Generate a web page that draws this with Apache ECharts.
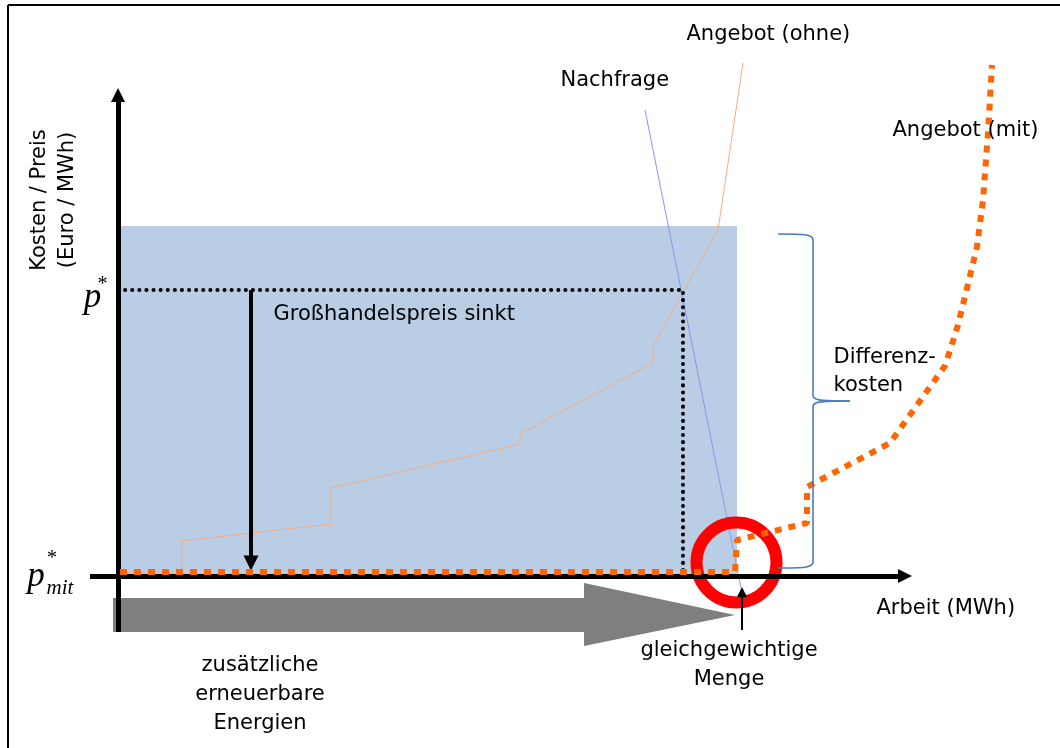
<!DOCTYPE html>
<html><head><meta charset="utf-8">
<script src="https://cdn.jsdelivr.net/npm/echarts@6/dist/echarts.min.js"></script>
<style>html,body{margin:0;padding:0;background:#fff}#c{width:1060px;height:748px}</style>
</head><body><div id="c"></div>
<script>
// Schematic values: x = Arbeit (MWh), y = Kosten / Preis (arbitrary units, origin at the axis crossing)
const supplyOhne = [[2,4],[64,4],[64,35],[213,52],[213,88],[402,132],[402,142],[535,213],[535,230],[600,346],[625,513]];
const supplyMit  = [[2,4],[617,4],[619,36],[689,53],[689,89],[772,133],[819,199],[827,210],[840,251],[859,329],[865,376],[870,443],[874,511]];
const nachfrage  = [[527,466],[623,-12]];
const pStarLine  = [[0,286],[565,286],[565,0]];          // p* and old equilibrium quantity
const costArea   = [[0,0],[619,350]];                     // shaded rectangle
const priceDrop  = [[133,286],[133,13]];                  // Großhandelspreis sinkt
const yAxisLine  = [[0,-56],[0,481]];
const xAxisLine  = [[-28,0],[787,0]];
const mengeArrow = [[624,-54],[624,-16]];
const equilibrium = [618.5,13.5];
const addedRE    = [[-5,-22],[466,-22],[466,-7],[617,-39],[466,-70],[466,-56],[-5,-56]];
const brace      = {top:342, bottom:8, mid:175, left:660, spine:695, tip:732};

const textLabels  = ['Angebot (ohne)','Nachfrage','Angebot (mit)','Großhandelspreis sinkt','Differenz-\nkosten','Arbeit (MWh)','zusätzliche\nerneuerbare\nEnergien','gleichgewichtige\nMenge','Kosten / Preis\n(Euro / MWh)'];
const textAnchors = [[568,541],[442,495],[774,445],[155,261],[715,204],[758,-33],[142,-118.5],[611,-89.5],[-64,376]];
const textModes   = ['left','left','left','left','left','left','center','center','rot'];
const symLabels   = ['p','*','p','mit','*'];
const symAnchors  = [[-25.5,278],[-15.5,291],[-82,-1],[-58,-12],[-66,17]];
const symSizes    = [35,20,35,21,20];

const FONT = 'DejaVu Sans';
const chart = echarts.init(document.getElementById('c'), null, {renderer:'canvas'});

const textData = textLabels.map((t,i)=>{
  const m = textModes[i];
  const lab = {show:true, formatter:t, fontFamily:FONT, fontSize:21, color:'#000', lineHeight:28, opacity:1};
  if (m==='left'){ lab.position='right'; lab.distance=0; lab.align='left'; }
  else if (m==='center'){ lab.position='inside'; lab.align='center'; lab.lineHeight=29; }
  else { lab.position='inside'; lab.rotate=90; lab.align='center'; }
  return {value:textAnchors[i], label:lab};
});
const symData = symLabels.map((t,i)=>({value:symAnchors[i], label:{show:true, position:'inside', formatter:t, opacity:1,
  fontFamily:'Liberation Serif', fontStyle: t==='*'?'normal':'italic', fontSize:symSizes[i], color:'#000'}}));

function polyItem(pts, style){
  return function(params, api){
    return {type:'polygon', shape:{points:pts.map(p=>api.coord(p))}, style:style};
  };
}

const option = {
  animation:false,
  grid:{left:0,right:0,top:0,bottom:0},
  xAxis:{type:'value', min:-118, max:942, show:false},
  yAxis:{type:'value', min:-172, max:576, show:false},
  graphic:[
    {type:'line', shape:{x1:8,y1:5,x2:8,y2:748}, style:{stroke:'#000',lineWidth:2}, z:100},
    {type:'line', shape:{x1:8,y1:5,x2:1060,y2:5}, style:{stroke:'#000',lineWidth:2}, z:100}
  ],
  series:[
    {type:'custom', coordinateSystem:'cartesian2d', data:[[0,0]], z:1, silent:true,
      renderItem:function(params, api){
        const a = api.coord(costArea[0]), b = api.coord(costArea[1]);
        return {type:'rect', shape:{x:a[0], y:b[1], width:b[0]-a[0], height:a[1]-b[1]}, style:{fill:'#b9cde5'}};
      }},
    {type:'line', data:supplyOhne, showSymbol:false, symbol:'none', clip:false, z:2, silent:true,
      lineStyle:{color:'#f2ad82', width:1}},
    {type:'line', data:nachfrage, showSymbol:false, symbol:'none', clip:false, z:2, silent:true,
      lineStyle:{color:'#8797f2', width:1}},
    {type:'line', data:pStarLine, showSymbol:false, symbol:'none', clip:false, z:3, silent:true,
      lineStyle:{color:'#000', width:4, type:[0.1,7], cap:'round'}},
    {type:'lines', coordinateSystem:'cartesian2d', z:4, silent:true,
      symbol:['none','triangle'], symbolSize:15,
      lineStyle:{color:'#000', width:4, opacity:1},
      data:[{coords:priceDrop}]},
    {type:'custom', coordinateSystem:'cartesian2d', data:[[0,0]], z:4, silent:true,
      renderItem:polyItem(addedRE, {fill:'#7f7f7f'})},
    {type:'scatter', data:[equilibrium], symbol:'circle', symbolSize:80, z:5, silent:true,
      itemStyle:{color:'rgba(0,0,0,0)', borderColor:'#ff0000', borderWidth:12, opacity:1}},
    {type:'lines', coordinateSystem:'cartesian2d', z:6, silent:true,
      symbol:['none','triangle'], symbolSize:14,
      lineStyle:{color:'#000', width:5, opacity:1},
      data:[{coords:yAxisLine},{coords:xAxisLine}]},
    {type:'line', data:supplyMit, showSymbol:false, symbol:'none', clip:false, z:7, silent:true,
      lineStyle:{color:'#ff6600', width:6, type:[7,7], cap:'butt'}},
    {type:'lines', coordinateSystem:'cartesian2d', z:8, silent:true,
      symbol:['none','triangle'], symbolSize:10,
      lineStyle:{color:'#000', width:2, opacity:1},
      data:[{coords:mengeArrow}]},
    {type:'custom', coordinateSystem:'cartesian2d', data:[[0,0]], z:8, silent:true,
      renderItem:function(params, api){
        const c = (x,y)=>api.coord([x,y]);
        const b = brace;
        const st = {stroke:'#4a7ebb', lineWidth:1.6, fill:null};
        const T = c(b.left,b.top), S1 = c(b.spine,b.top-6), S2 = c(b.spine,b.mid+6),
              M = c(b.tip,b.mid), S3 = c(b.spine,b.mid-6), S4 = c(b.spine,b.bottom+6), B = c(b.left,b.bottom);
        const sTop = c(b.spine,b.top), sMid = c(b.spine,b.mid), sBot = c(b.spine,b.bottom);
        return {type:'group', children:[
          {type:'bezierCurve', shape:{x1:T[0],y1:T[1],cpx1:sTop[0]-10,cpy1:T[1],cpx2:sTop[0],cpy2:sTop[1],x2:S1[0],y2:S1[1]}, style:st},
          {type:'line', shape:{x1:S1[0],y1:S1[1],x2:S2[0],y2:S2[1]}, style:st},
          {type:'bezierCurve', shape:{x1:S2[0],y1:S2[1],cpx1:sMid[0],cpy1:sMid[1]-1,cpx2:sMid[0]+4,cpy2:M[1],x2:M[0],y2:M[1]}, style:st},
          {type:'bezierCurve', shape:{x1:M[0],y1:M[1],cpx1:sMid[0]+4,cpy1:M[1],cpx2:sMid[0],cpy2:sMid[1]+1,x2:S3[0],y2:S3[1]}, style:st},
          {type:'line', shape:{x1:S3[0],y1:S3[1],x2:S4[0],y2:S4[1]}, style:st},
          {type:'bezierCurve', shape:{x1:S4[0],y1:S4[1],cpx1:sBot[0],cpy1:sBot[1],cpx2:sBot[0]-10,cpy2:B[1],x2:B[0],y2:B[1]}, style:st}
        ]};
      }},
    {type:'scatter', data:textData, symbolSize:1, z:10, silent:true, itemStyle:{color:'rgba(0,0,0,0)', opacity:1}},
    {type:'scatter', data:symData, symbolSize:1, z:10, silent:true, itemStyle:{color:'rgba(0,0,0,0)', opacity:1}}
  ]
};
chart.setOption(option);
</script>
</body></html>
